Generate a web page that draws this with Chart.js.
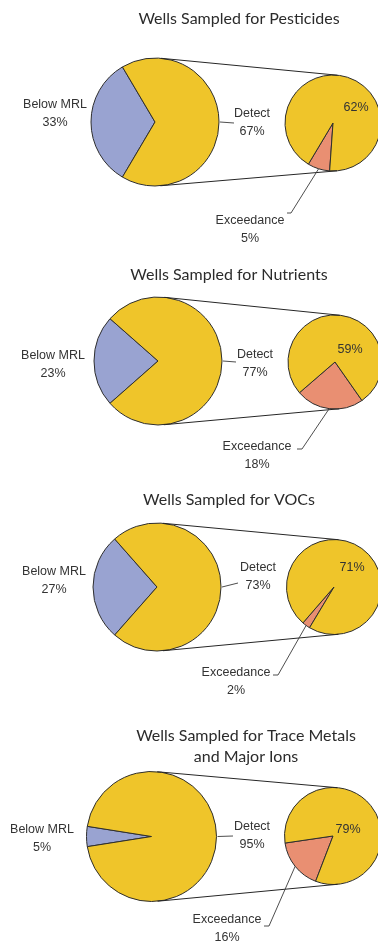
<!DOCTYPE html>
<html>
<head>
<meta charset="utf-8">
<script src="https://cdn.jsdelivr.net/npm/chart.js@4.4.1/dist/chart.umd.min.js"></script>
<style>
  html, body { margin: 0; padding: 0; background: #fff; overflow: hidden; width: 378px; height: 942px; }
  #stage { position: relative; width: 378px; height: 942px; }
  #stage canvas { position: absolute; left: 0; top: 0; }
</style>
</head>
<body>
<div id="stage"></div>
<script>
// ---- data ----
const panelTitles = [
  ['Wells Sampled for Pesticides'],
  ['Wells Sampled for Nutrients'],
  ['Wells Sampled for VOCs'],
  ['Wells Sampled for Trace Metals', 'and Major Ions']
];
const sliceNames = ['Below MRL', 'Detect', 'Exceedance'];
const belowMRL = [33, 23, 27, 5];
const detect = [67, 77, 73, 95];
const exceedance = [5, 18, 2, 16];
const detectNoExceedance = [62, 59, 71, 79];

// ---- styles ----
const W = 378, H = 942;
const COLORS = {
  below: '#99a3d1',
  detect: '#efc52a',
  exceed: '#e98f72',
  edge: '#2e2e2e',
  text: '#333333',
  title: '#2b2b2b'
};
const LABEL_FONT = '12.5px "Liberation Sans", Arial, sans-serif';
const TITLE_FONT = '16px Lato, "Open Sans", sans-serif';
const LINE_GAP = 17.5;
const TITLE_GAP = 21;

// ---- layout of each panel (pixel positions) ----
const layout = [
  { title: [239, 19], big: [155, 122, 64], small: [333, 123, 48], start: 94,
    belowAt: [55, 105], detectAt: [252, 114], detectLeadEnd: [234, 123],
    restAt: [356, 108], excAt: [250, 221], excLead: [[291, 213], [287, 213]] },
  { title: [229, 275], big: [158, 361, 64], small: [335, 362, 47], start: 55,
    belowAt: [53, 356], detectAt: [255, 355], detectLeadEnd: [236, 362],
    restAt: [350, 350], excAt: [257, 447], excLead: [[302, 449], [297, 449]] },
  { title: [229, 500], big: [157, 587, 64], small: [334, 587, 47.5], start: 121,
    belowAt: [54, 572], detectAt: [258, 568], detectLeadEnd: [238, 583],
    restAt: [352, 568], excAt: [236, 673], excLead: [[278, 675], [273, 675]] },
  { title: [246, 736], big: [151.5, 836.5, 65], small: [333, 836, 48.5], start: 111,
    belowAt: [42, 830], detectAt: [252, 827], detectLeadEnd: [233, 836],
    restAt: [348, 830], excAt: [227, 920], excLead: [[269, 926], [264, 926]] }
];

const stage = document.getElementById('stage');

function makeCanvas() {
  const c = document.createElement('canvas');
  c.width = W; c.height = H;
  c.style.width = W + 'px'; c.style.height = H + 'px';
  stage.appendChild(c);
  return c;
}

// padding that puts the chart-area centre on (cx, cy)
function paddingFor(cx, cy) {
  const s = Math.max(1, Math.min(cx, W - cx, cy, H - cy) - 1);
  return { left: cx - s, right: W - cx - s, top: cy - s, bottom: H - cy - s };
}

function pieConfig(values, colors, cx, cy, r, rotation, plugins) {
  return {
    type: 'pie',
    data: {
      datasets: [{
        data: values,
        backgroundColor: colors,
        borderColor: COLORS.edge,
        borderWidth: 1,
        clip: false
      }]
    },
    options: {
      responsive: false,
      animation: false,
      events: [],
      rotation: rotation,
      radius: r,
      layout: { padding: paddingFor(cx, cy) },
      plugins: { legend: { display: false }, tooltip: { enabled: false } }
    },
    plugins: plugins || []
  };
}

function line(ctx, pts) {
  ctx.beginPath();
  ctx.moveTo(pts[0][0], pts[0][1]);
  for (let i = 1; i < pts.length; i++) ctx.lineTo(pts[i][0], pts[i][1]);
  ctx.stroke();
}

function label(ctx, lines, x, y, gap) {
  lines.forEach((t, i) => ctx.fillText(t, x, y + i * (gap || LINE_GAP)));
}

const bigCharts = [];

// big pies: Below MRL vs Detect, with Below MRL centred on the left
layout.forEach((L, i) => {
  const [cx, cy, r] = L.big;
  const rot = 270 - belowMRL[i] / (belowMRL[i] + detect[i]) * 180;
  bigCharts.push(new Chart(makeCanvas(), pieConfig(
    [belowMRL[i], detect[i]], [COLORS.below, COLORS.detect], cx, cy, r, rot)));
});

// small pies: the Detect share split into Exceedance and the rest
layout.forEach((L, i) => {
  const [cx, cy, r] = L.small;
  const decor = {
    id: 'decor' + i,
    afterDraw(chart) {
      const ctx = chart.ctx;
      const big = bigCharts[i].getDatasetMeta(0).data[0];
      const sm = chart.getDatasetMeta(0).data[0];
      const exc = sm; // first arc is the Exceedance wedge
      ctx.save();

      // connector lines: outer tangents between the two circles
      const dx = sm.x - big.x, dy = sm.y - big.y;
      const d = Math.hypot(dx, dy);
      const phi = Math.atan2(dy, dx);
      const a = Math.acos((big.outerRadius - sm.outerRadius) / d);
      ctx.strokeStyle = '#262626';
      ctx.lineWidth = 1;
      [phi - a, phi + a].forEach(t => {
        line(ctx, [
          [big.x + big.outerRadius * Math.cos(t), big.y + big.outerRadius * Math.sin(t)],
          [sm.x + sm.outerRadius * Math.cos(t), sm.y + sm.outerRadius * Math.sin(t)]
        ]);
      });

      // leader lines
      ctx.strokeStyle = '#3a3a3a';
      ctx.lineWidth = 0.9;
      line(ctx, [[big.x + big.outerRadius + 1, big.y], L.detectLeadEnd]);
      const mid = (exc.startAngle + exc.endAngle) / 2;
      line(ctx, [[exc.x + exc.outerRadius * Math.cos(mid), exc.y + exc.outerRadius * Math.sin(mid)]].concat(L.excLead));

      // text
      ctx.textAlign = 'center';
      ctx.textBaseline = 'middle';
      ctx.fillStyle = COLORS.title;
      ctx.font = TITLE_FONT;
      label(ctx, panelTitles[i], L.title[0], L.title[1], TITLE_GAP);
      ctx.fillStyle = COLORS.text;
      ctx.font = LABEL_FONT;
      label(ctx, [sliceNames[0], belowMRL[i] + '%'], L.belowAt[0], L.belowAt[1]);
      label(ctx, [sliceNames[1], detect[i] + '%'], L.detectAt[0], L.detectAt[1]);
      label(ctx, [sliceNames[2], exceedance[i] + '%'], L.excAt[0], L.excAt[1]);
      label(ctx, [detectNoExceedance[i] + '%'], L.restAt[0], L.restAt[1]);
      ctx.restore();
    }
  };
  new Chart(makeCanvas(), pieConfig(
    [exceedance[i], detectNoExceedance[i]], [COLORS.exceed, COLORS.detect],
    cx, cy, r, L.start + 90, [decor]));
});
</script>
</body>
</html>
